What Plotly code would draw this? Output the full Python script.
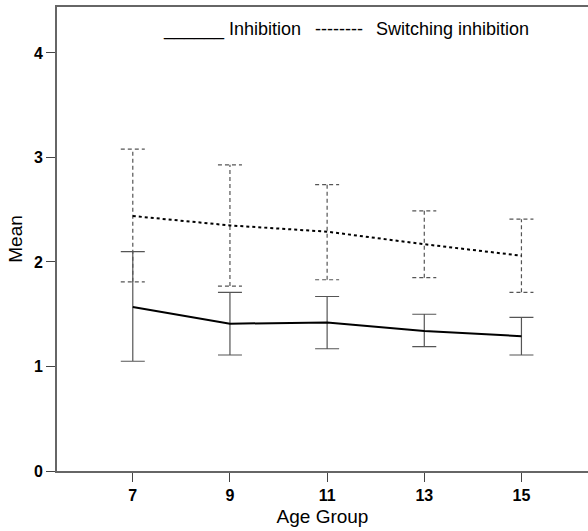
import plotly.graph_objects as go

# ---- data ----
ages = [7, 9, 11, 13, 15]
inh_mean = [1.57, 1.41, 1.42, 1.34, 1.29]
inh_upper = [2.10, 1.71, 1.67, 1.50, 1.47]
inh_lower = [1.05, 1.11, 1.17, 1.19, 1.11]
sw_mean = [2.44, 2.35, 2.29, 2.17, 2.06]
sw_upper = [3.08, 2.93, 2.74, 2.49, 2.41]
sw_lower = [1.81, 1.77, 1.83, 1.85, 1.71]
y_ticks = [0, 1, 2, 3, 4]

W, H = 588, 531
ML, MR, MT, MB = 57, 0, 7, 60
XR = [5.44, 16.37]
YR = [0, 4.44]
FONT = "Liberation Sans, Arial, sans-serif"

cap_half = 12 * (XR[1] - XR[0]) / (W - ML - MR)

fig = go.Figure()

# Inhibition error bars (solid)
fig.add_trace(go.Scatter(
    x=ages, y=inh_mean, mode="lines",
    line=dict(color="black", width=2),
    error_y=dict(type="data", symmetric=False,
                 array=[u - m for u, m in zip(inh_upper, inh_mean)],
                 arrayminus=[m - l for l, m in zip(inh_lower, inh_mean)],
                 color="#555555", thickness=1.2, width=12),
    showlegend=False, hoverinfo="skip"))

# Switching inhibition error bars (dashed) built from data
ex, ey = [], []
for a, lo, hi in zip(ages, sw_lower, sw_upper):
    ex += [a, a, None, a - cap_half, a + cap_half, None, a - cap_half, a + cap_half, None]
    ey += [lo, hi, None, hi, hi, None, lo, lo, None]
fig.add_trace(go.Scatter(
    x=ex, y=ey, mode="lines",
    line=dict(color="#555555", width=1.2, dash="4px,3px"),
    showlegend=False, hoverinfo="skip"))

fig.add_trace(go.Scatter(
    x=ages, y=sw_mean, mode="lines",
    line=dict(color="black", width=2, dash="dot"),
    showlegend=False, hoverinfo="skip"))

def px_x(p):
    return (p - ML) / (W - ML - MR)

def px_y(p):
    return (H - MB - p) / (H - MT - MB)

leg_font = dict(family=FONT, size=18, color="black")
fig.add_annotation(text="______ Inhibition", xref="paper", yref="paper",
                   x=px_x(161), y=px_y(29), xanchor="left", yanchor="middle",
                   showarrow=False, font=leg_font)
fig.add_annotation(text="--------", xref="paper", yref="paper",
                   x=px_x(313), y=px_y(29), xanchor="left", yanchor="middle",
                   showarrow=False, font=leg_font)
fig.add_annotation(text="Switching inhibition", xref="paper", yref="paper",
                   x=px_x(374), y=px_y(29), xanchor="left", yanchor="middle",
                   showarrow=False, font=leg_font)

fig.update_layout(
    width=W, height=H,
    margin=dict(l=ML, r=MR, t=MT, b=MB, pad=0),
    paper_bgcolor="white", plot_bgcolor="white",
    font=dict(family=FONT, color="black"),
    xaxis=dict(range=XR, tickvals=ages, ticktext=[str(a) for a in ages],
               showgrid=False, zeroline=False,
               showline=True, linecolor="#666666", linewidth=2, mirror=True,
               ticks="outside", ticklen=9, tickcolor="#444444", tickwidth=1,
               tickfont=dict(family=FONT, size=16, color="black", weight="bold"),
               title=dict(text="Age Group", font=dict(family=FONT, size=19), standoff=6)),
    yaxis=dict(range=YR, tickvals=y_ticks, ticktext=[str(t) for t in y_ticks],
               showgrid=False, zeroline=False,
               showline=True, linecolor="#666666", linewidth=2,
               ticks="outside", ticklen=9, tickcolor="#444444", tickwidth=1,
               tickfont=dict(family=FONT, size=16, color="black", weight="bold"),
               title=dict(text="Mean", font=dict(family=FONT, size=19), standoff=6)),
)

fig.write_html("out.html")
